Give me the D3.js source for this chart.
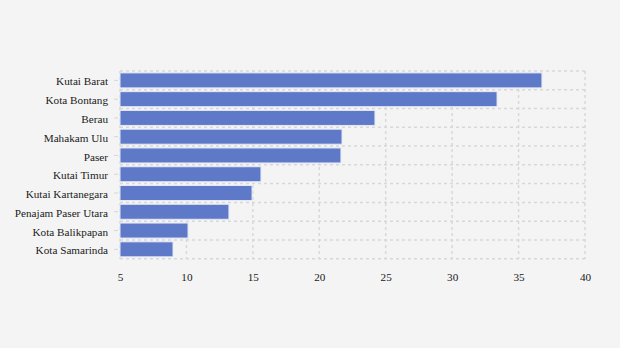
<!DOCTYPE html>
<html>
<head>
<meta charset="utf-8">
<script src="https://cdn.jsdelivr.net/npm/d3@7"></script>
<style>
  html, body { margin: 0; padding: 0; background: #f4f4f4; }
  svg { display: block; }
</style>
</head>
<body>
<svg id="chart" width="620" height="348"></svg>
<script>
// Regions of East Kalimantan, top to bottom
const regions = [
  "Kutai Barat", "Kota Bontang", "Berau", "Mahakam Ulu", "Paser",
  "Kutai Timur", "Kutai Kartanegara", "Penajam Paser Utara",
  "Kota Balikpapan", "Kota Samarinda"
];
const values = [36.76, 33.38, 24.19, 21.71, 21.63, 15.61, 14.94, 13.2, 10.12, 8.99];
const xTicks = [5, 10, 15, 20, 25, 30, 35, 40];

const svg = d3.select("#chart");
const margin = { top: 71, right: 35, bottom: 89.3, left: 120 };
const width = 620 - margin.left - margin.right;
const height = 348 - margin.top - margin.bottom;

const g = svg.append("g").attr("transform", `translate(${margin.left},${margin.top})`);

const x = d3.scaleLinear().domain([5, 40]).range([0, width]);
const y = d3.scaleBand().domain(regions).range([0, height]).paddingInner(0.2).paddingOuter(0.1);

const gridStyle = sel => sel.attr("stroke", "#d8d8d8").attr("stroke-width", 1.5).attr("stroke-dasharray", "3,3");

// vertical grid
g.append("g").selectAll("line").data(xTicks).join("line")
  .attr("x1", d => x(d)).attr("x2", d => x(d))
  .attr("y1", 0).attr("y2", height)
  .call(gridStyle);

// horizontal grid at band edges
const edges = d3.range(regions.length + 1).map(i => i * height / regions.length);
g.append("g").selectAll("line").data(edges).join("line")
  .attr("x1", 0).attr("x2", width)
  .attr("y1", d => d).attr("y2", d => d)
  .call(gridStyle);

// bars
g.append("g").selectAll("rect").data(regions).join("rect")
  .attr("x", x(5))
  .attr("y", d => y(d))
  .attr("width", (d, i) => x(values[i]) - x(5))
  .attr("height", y.bandwidth())
  .attr("fill", "#5f79c9")
  .attr("stroke", "#e4e9f6")
  .attr("stroke-width", 1);

const fontFamily = "'Liberation Serif', 'Times New Roman', serif";

// y axis
const yAxis = g.append("g")
  .call(d3.axisLeft(y).tickSize(4).tickPadding(8));
yAxis.select(".domain").remove();
yAxis.selectAll(".tick line").attr("stroke", "#d6d6d6").attr("transform", "translate(-2,0)");
yAxis.selectAll("text")
  .attr("fill", "#1a1a1a")
  .attr("dy", "0.45em")
  .style("font-family", fontFamily)
  .style("font-size", "11.2px");

// x axis
const xAxis = g.append("g")
  .attr("transform", `translate(0,${height})`)
  .call(d3.axisBottom(x).tickValues(xTicks).tickSize(0).tickPadding(14));
xAxis.select(".domain").remove();
xAxis.selectAll("text")
  .attr("fill", "#1a1a1a")
  .style("font-family", fontFamily)
  .style("font-size", "11.2px");
</script>
</body>
</html>
